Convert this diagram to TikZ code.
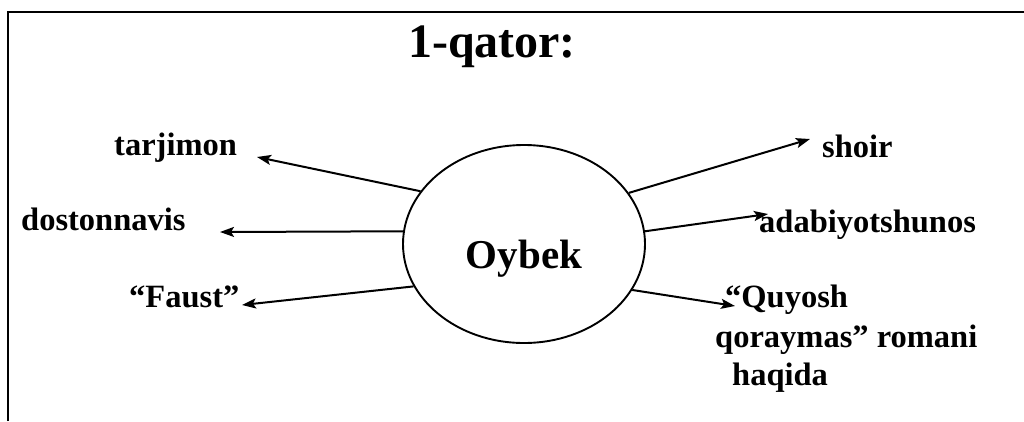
\documentclass[tikz,border=0pt]{standalone}
\usepackage{fontspec}
\setmainfont{Liberation Serif}
\usetikzlibrary{shapes.geometric,arrows.meta}
\begin{document}
\begin{tikzpicture}[x=1pt,y=-1pt,
  lbl/.style={inner sep=0pt,anchor=base west,font=\fontsize{32.5}{36}\selectfont\bfseries},
  conn/.style={line width=2pt,-{Stealth[length=14pt,width=10pt,inset=3pt]}},
  bubble/.style={draw,ellipse,line width=1.9pt,minimum width=242pt,minimum height=198pt,inner sep=0pt}]
\useasboundingbox (0,0) rectangle (1024,421);
% frame
\draw[line width=2.2pt] (8,421) -- (8,12) -- (1024,12);
% title
\node[inner sep=0pt,anchor=base,font=\fontsize{48}{52}\selectfont\bfseries] (title) at (492,57) {1-qator:};
% centre
\node[bubble] (oy) at (524,244) {};
\node[inner sep=0pt,anchor=base,font=\fontsize{41}{45}\selectfont\bfseries] (oyt) at (524,268) {Oybek};
% labels
\node[lbl] (tarj) at (114,155) {tarjimon};
\node[lbl] (dost) at (21,230) {dostonnavis};
\node[lbl] (faust) at (129,307) {“Faust”};
\node[lbl] (shoir) at (822,157) {shoir};
\node[lbl] (adab) at (759,232) {adabiyotshunos};
\node[lbl] (quy) at (725,307) {“Quyosh};
\node[lbl] (qor) at (715,347) {qoraymas” romani};
\node[lbl] (haq) at (732,385) {haqida};
% arrow tips
\coordinate (tTarj) at (257,157);
\coordinate (tDost) at (220,232);
\coordinate (tFaust) at (242,305);
\coordinate (tShoir) at (810,139);
\coordinate (tAdab) at (768,214);
\coordinate (tQuy) at (735,306);
% connectors
\draw[conn] (oy.153) -- (tTarj);
\draw[conn] (oy.174) -- (tDost);
\draw[conn] (oy.201) -- (tFaust);
\draw[conn] (oy.26) -- (tShoir);
\draw[conn] (oy.6) -- (tAdab);
\draw[conn] (oy.337) -- (tQuy);
\end{tikzpicture}
\end{document}
